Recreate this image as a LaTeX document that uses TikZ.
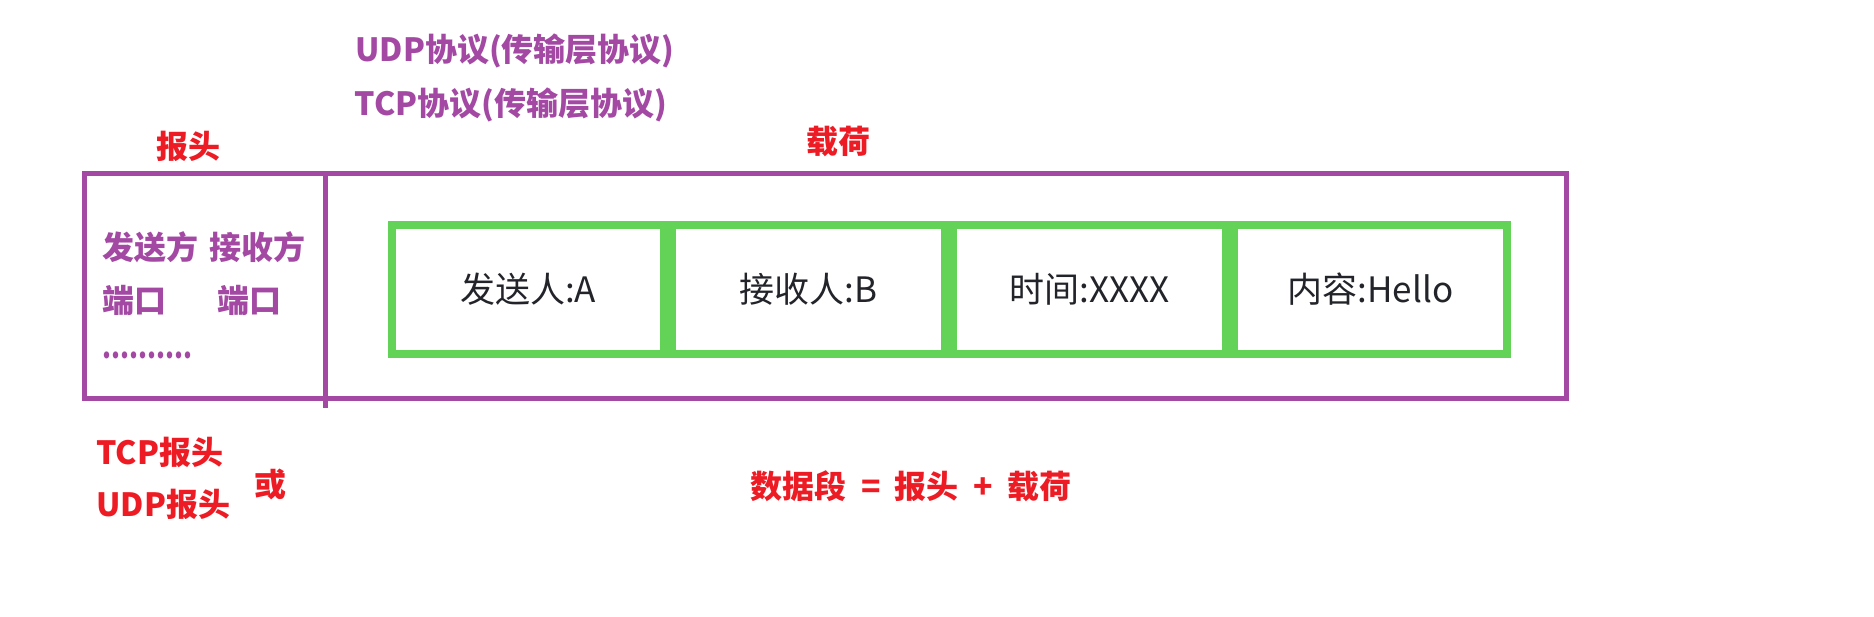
\documentclass[tikz,border=0pt]{standalone}
\usepackage{fontspec}
\setmainfont{Noto Sans CJK SC}
\usetikzlibrary{positioning}
\definecolor{purp}{RGB}{163,73,164}
\definecolor{redd}{RGB}{237,28,36}
\definecolor{grn}{RGB}{98,211,86}
\definecolor{ink}{RGB}{34,36,42}

\begin{document}
\begin{tikzpicture}[x=0.5pt,y=-0.5pt,
    purptext/.style={text=purp,font=\bfseries\fontsize{16}{18}\selectfont,inner sep=0pt},
    redtext/.style={text=redd,font=\bfseries\fontsize{16}{18}\selectfont,inner sep=0pt},
    frame/.style={draw=purp,line width=2.5pt,minimum height=112.5pt,inner sep=0pt},
    cell/.style={draw=grn,line width=4pt,minimum width=136.4pt,minimum height=64.5pt,
        inner sep=0pt,text=ink,font=\fontsize{17.5}{19}\selectfont}]
    \useasboundingbox (0,0) rectangle (1874,616);

    \node[purptext] (udp) at (515,51) {UDP协议(传输层协议)};
    \node[purptext] (tcp) at (511,105) {TCP协议(传输层协议)};
    \node[redtext] (hdrlabel) at (188,146) {报头};
    \node[redtext] (loadlabel) at (838,141) {载荷};

    \node[frame,minimum width=120.5pt] (hdr) at (204.5,285.5) {};
    \node[frame,minimum width=620.5pt] (load) at (945.5,285.5) {};
    \draw[purp,line width=2.5pt] (325,173) -- (325,408);

    \node[purptext,anchor=west] (srcname) at (102,247) {发送方};
    \node[purptext,anchor=west] (dstname) at (209,247) {接收方};
    \node[purptext,anchor=west] (srcport) at (102,300) {端口};
    \node[purptext,anchor=west] (dstport) at (217,300) {端口};
    \node[purptext,anchor=west] (more) at (102,355) {\scalebox{0.8}[1]{..........}};

    \node[cell] (c1) at (528,289) {\raisebox{-1.5pt}{发送人:A}};
    \node[cell,right=0pt of c1] (c2) {\raisebox{-1.5pt}{接收人:B}};
    \node[cell,right=0pt of c2] (c3) {\raisebox{-1.5pt}{时间:XXXX}};
    \node[cell,right=0pt of c3] (c4) {\raisebox{-1.5pt}{内容:Hello}};

    \node[redtext,anchor=west] (tcphdr) at (96,452) {TCP报头};
    \node[redtext,anchor=west] (udphdr) at (96,504) {UDP报头};
    \node[redtext] (or) at (270,484) {或};
    \node[redtext] (sum) at (911,486) {数据段\hspace{0.45em}=\hspace{0.45em}报头\hspace{0.45em}+\hspace{0.45em}载荷};
\end{tikzpicture}
\end{document}
